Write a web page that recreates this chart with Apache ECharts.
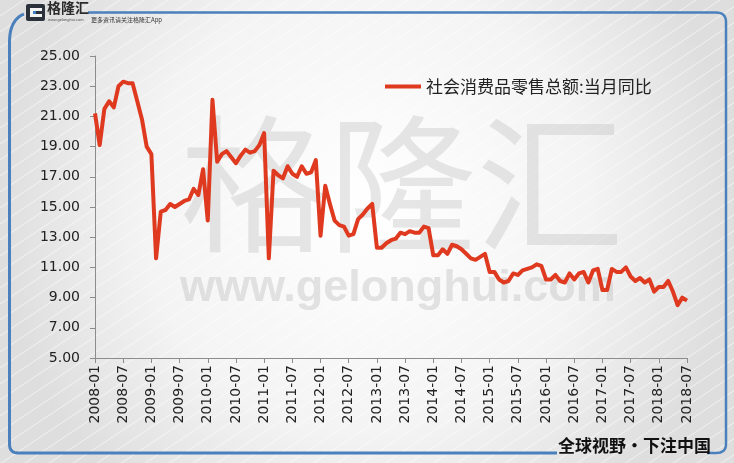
<!DOCTYPE html>
<html>
<head>
<meta charset="utf-8">
<script src="https://cdn.jsdelivr.net/npm/echarts@6/dist/echarts.min.js"></script>
<style>
html,body{margin:0;padding:0;background:#eee;}
#c{width:734px;height:463px;}
</style>
</head>
<body>
<div id="c"></div>
<script>
// ---- data ----
var startYear = 2008;
var monthCount = 127; // 2008-01 .. 2018-07
var categories = [];
for (var i = 0; i < monthCount; i++) {
  var y = startYear + Math.floor(i / 12);
  var m = (i % 12) + 1;
  categories.push(y + '-' + (m < 10 ? '0' + m : '' + m));
}
var seriesName = '社会消费品零售总额:当月同比';
var retailYoY = [
  21.2, 19.1, 21.5, 22.0, 21.6, 23.0, 23.3, 23.2, 23.2, 22.0, 20.8, 19.0,
  18.5, 11.6, 14.7, 14.8, 15.2, 15.0, 15.2, 15.4, 15.5, 16.2, 15.8, 17.5,
  14.1, 22.1, 18.0, 18.5, 18.7, 18.3, 17.9, 18.4, 18.8, 18.6, 18.7, 19.1,
  19.9, 11.6, 17.4, 17.1, 16.9, 17.7, 17.2, 17.0, 17.7, 17.2, 17.3, 18.1,
  13.1, 16.4, 15.2, 14.1, 13.8, 13.7, 13.1, 13.2, 14.2, 14.5, 14.9, 15.2,
  12.3, 12.3, 12.6, 12.8, 12.9, 13.3, 13.2, 13.4, 13.3, 13.3, 13.7, 13.6,
  11.8, 11.8, 12.2, 11.9, 12.5, 12.4, 12.2, 11.9, 11.6, 11.5, 11.7, 11.9,
  10.7, 10.7, 10.2, 10.0, 10.1, 10.6, 10.5, 10.8, 10.9, 11.0, 11.2, 11.1,
  10.2, 10.2, 10.5, 10.1, 10.0, 10.6, 10.2, 10.6, 10.7, 10.0, 10.8, 10.9,
  9.5, 9.5, 10.9, 10.7, 10.7, 11.0, 10.4, 10.1, 10.3, 10.0, 10.2, 9.4,
  9.7, 9.7, 10.1, 9.4, 8.5, 9.0, 8.8
];
var yMin = 5, yMax = 25, yStep = 2;
var labelEvery = 6;

// ---- stripe pattern ----
var pc = document.createElement('canvas');
pc.width = 24; pc.height = 16;
var g = pc.getContext('2d');
g.strokeStyle = 'rgba(255,255,255,0.8)';
g.lineWidth = 1.4;
g.beginPath();
g.moveTo(0, 16); g.lineTo(24, 0);
g.moveTo(-24, 16); g.lineTo(24, -16);
g.moveTo(0, 32); g.lineTo(48, 0);
g.stroke();

// quadratic corner helper -> polyline points
function corner(p0, c, p1, n) {
  var pts = [];
  for (var k = 0; k <= n; k++) {
    var t = k / n, a = (1 - t) * (1 - t), b = 2 * (1 - t) * t, d = t * t;
    pts.push([a * p0[0] + b * c[0] + d * p1[0], a * p0[1] + b * c[1] + d * p1[1]]);
  }
  return pts;
}
var rightFrame = [[88, 12.5]].concat(
  corner([716, 12.5], [726, 12.5], [726, 22], 8),
  corner([726, 444], [726, 453], [716, 453], 8),
  [[707, 453]]);
var leftFrame = corner([24, 14], [9.5, 20], [9.5, 42], 10).concat(
  corner([9.5, 444], [9.5, 453], [18, 453], 8), [[557, 453]]);

var blue = '#4a80bb';
var chart = echarts.init(document.getElementById('c'));
chart.setOption({
  animation: false,
  backgroundColor: {
    type: 'radial', x: 0.5, y: 0.45, r: 0.8,
    colorStops: [{offset: 0, color: '#ffffff'}, {offset: 0.6, color: '#f4f4f4'}, {offset: 1, color: '#dedede'}]
  },
  graphic: [
    {type: 'rect', z: -20, silent: true, shape: {x: 0, y: 0, width: 734, height: 463},
      style: {fill: {image: pc, repeat: 'repeat'}, opacity: 0.5}},
    // watermark
    {type: 'text', z: -10, silent: true, x: 180, y: 110,
      style: {text: '格隆汇', font: '148px "Noto Sans CJK SC"', fill: 'rgba(195,195,195,0.4)'}},
    {type: 'text', z: -10, silent: true, x: 180, y: 266,
      style: {text: 'www.gelonghui.com', font: 'bold 45px "Liberation Sans"', fill: 'rgba(195,195,195,0.45)'}},
    // frame
    {type: 'polyline', z: -5, silent: true, shape: {points: rightFrame},
      style: {stroke: blue, lineWidth: 2.5, fill: null}},
    {type: 'polyline', z: -5, silent: true, shape: {points: leftFrame},
      style: {stroke: blue, lineWidth: 3, fill: null}},
    // logo
    {type: 'rect', z: -4, silent: true, shape: {x: 26, y: 4, width: 19, height: 17, r: 2},
      style: {fill: '#2b323c'}},
    {type: 'rect', z: -3, silent: true, shape: {x: 30, y: 8, width: 12, height: 9},
      style: {fill: '#f4f4f4'}},
    {type: 'rect', z: -2, silent: true, shape: {x: 36, y: 11, width: 9, height: 3},
      style: {fill: '#2b323c'}},
    {type: 'rect', z: -2, silent: true, shape: {x: 33, y: 11, width: 3, height: 3},
      style: {fill: '#3d7fc4'}},
    {type: 'text', z: -3, silent: true, x: 47, y: 1,
      style: {text: '格隆汇', font: 'bold 14px "Noto Sans CJK SC"', fill: '#2b2b2b'}},
    {type: 'text', z: -3, silent: true, x: 48, y: 18,
      style: {text: 'www.gelonghui.com', font: '4px "Liberation Sans"', fill: '#555'}},
    {type: 'text', z: -3, silent: true, x: 91, y: 17,
      style: {text: '更多资讯请关注格隆汇App', font: '6px "Noto Sans CJK SC"', fill: '#333'}},
    // footer slogan
    {type: 'text', z: -3, silent: true, x: 558, y: 437,
      style: {text: '全球视野・下注中国', font: 'bold 17px "Noto Sans CJK SC"', fill: '#111'}}
  ],
  legend: {
    show: true, left: 380, top: 73, itemWidth: 36, itemHeight: 4, itemGap: 6,
    icon: 'rect',
    textStyle: {fontFamily: '"Noto Sans CJK SC"', fontSize: 17, color: '#222'},
    data: [seriesName]
  },
  grid: {left: 95, right: 47, top: 56, bottom: 105, containLabel: false},
  xAxis: {
    type: 'category', data: categories, boundaryGap: false,
    axisLine: {lineStyle: {color: '#8c8c8c', width: 1}},
    axisTick: {show: true, length: 5, lineStyle: {color: '#8c8c8c'},
      interval: function (idx) { return idx % labelEvery === 0; }},
    axisLabel: {
      rotate: 90, margin: 7, color: '#222', fontFamily: '"DejaVu Sans"', fontSize: 14,
      interval: function (idx) { return idx % labelEvery === 0; }
    },
    splitLine: {show: false}
  },
  yAxis: {
    type: 'value', min: yMin, max: yMax, interval: yStep,
    axisLine: {show: true, lineStyle: {color: '#8c8c8c', width: 1}},
    axisTick: {show: true, length: 5, lineStyle: {color: '#8c8c8c'}},
    axisLabel: {margin: 15, color: '#222', fontFamily: '"DejaVu Sans"', fontSize: 14,
      formatter: function (v) { return v.toFixed(2); }},
    splitLine: {show: false}
  },
  series: [{
    name: seriesName, type: 'line', data: retailYoY, showSymbol: false, symbol: 'none',
    lineStyle: {color: '#df3a20', width: 4, join: 'round'},
    itemStyle: {color: '#df3a20'}
  }]
});
</script>
</body>
</html>
